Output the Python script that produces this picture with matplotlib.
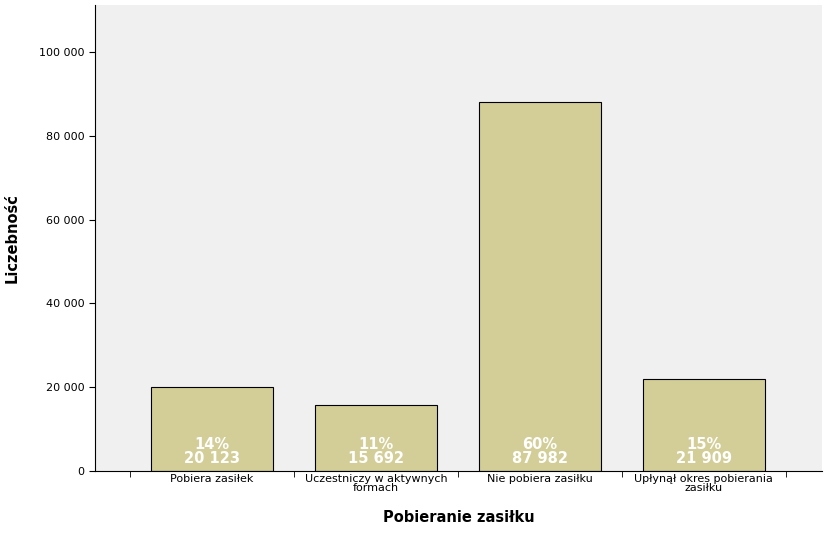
import matplotlib.pyplot as plt
from matplotlib.ticker import FuncFormatter

categories = ["Pobiera zasiłek", "Uczestniczy w aktywnych\nformach", "Nie pobiera zasiłku",
              "Upłynął okres pobierania\nzasiłku"]
counts = [20123, 15692, 87982, 21909]
percents = ["14%", "11%", "60%", "15%"]

fig = plt.figure(figsize=(8.31, 5.38), dpi=100)
ax = fig.add_axes([95 / 831, 67 / 538, 727 / 831, 466 / 538])
ax.set_facecolor("#F0F0F1")

x = list(range(len(categories)))
ax.bar(x, counts, width=0.74, color="#D3CE97", edgecolor="black", linewidth=0.8, zorder=2)
for xi, c, p in zip(x, counts, percents):
    label = f"{p}\n{c:,}".replace(",", " ")
    ax.text(xi, 1200, label, ha="center", va="bottom", color="white",
            fontsize=10.5, fontweight="bold", linespacing=0.95, zorder=3)

ax.set_xlim(-0.713, 3.72)
ax.set_ylim(0, 111200)
ax.set_yticks([0, 20000, 40000, 60000, 80000, 100000])
ax.yaxis.set_major_formatter(FuncFormatter(lambda v, _: f"{int(v):,}".replace(",", " ")))
ax.set_xticks(x)
ax.set_xticklabels(categories, fontsize=8, linespacing=0.95)
ax.set_xticks([-0.5, 0.5, 1.5, 2.5, 3.5], minor=True)
ax.tick_params(axis="x", which="major", length=0, pad=2)
ax.tick_params(axis="x", which="minor", length=4, direction="out")
ax.tick_params(axis="y", labelsize=8, length=4)
ax.grid(False)
for s in ["top", "right"]:
    ax.spines[s].set_visible(False)
for s in ["left", "bottom"]:
    ax.spines[s].set_linewidth(0.8)

ax.set_xlabel("Pobieranie zasiłku", fontsize=10.5, fontweight="bold", labelpad=12)
ax.set_ylabel("Liczebność", fontsize=10.5, fontweight="bold", labelpad=14)

fig.savefig("out.png", dpi=100)
